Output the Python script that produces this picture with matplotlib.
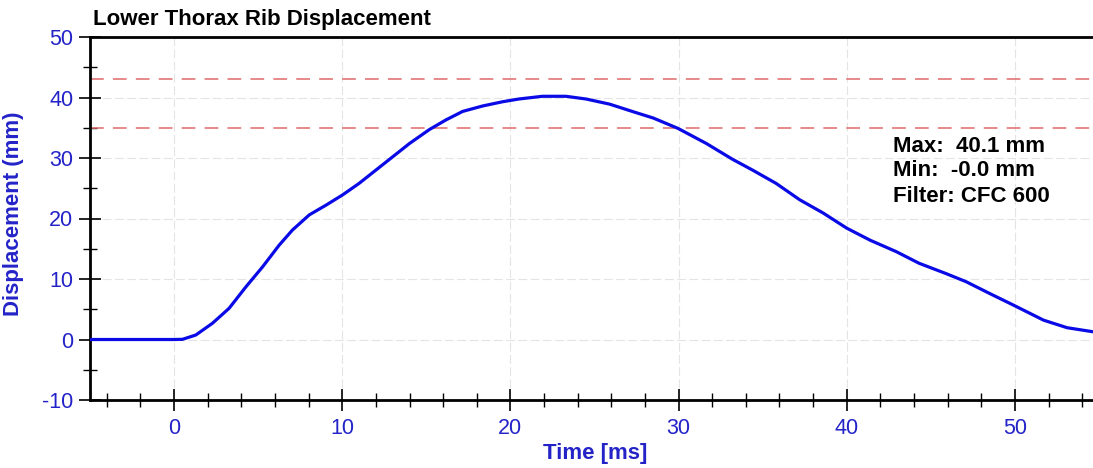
import matplotlib.pyplot as plt
from matplotlib.ticker import MultipleLocator

plt.rcParams['font.family'] = ['Liberation Sans', 'DejaVu Sans']
plt.rcParams['axes.unicode_minus'] = False

# time [ms] and lower thorax rib displacement [mm]
time_ms = [-5, -2, 0, 0.5, 1.29, 2.28, 3.27, 4.27, 5.26, 6.25, 7.04, 8.04, 9.03,
           10.02, 11.0, 12.0, 13.0, 14.0, 15.18, 16.17, 17.16, 18.35, 19.54, 20.5,
           21.9, 23.3, 24.5, 25.9, 27.3, 28.5, 29.96, 31.65, 33.2, 34.4, 35.8, 37.2,
           38.6, 40.0, 41.4, 42.96, 44.3, 45.9, 47.1, 48.5, 49.9, 51.7, 53.1, 54.6, 55.0]
disp_mm = [0, 0, 0, 0.03, 0.74, 2.68, 5.15, 8.7, 12.0, 15.6, 18.1, 20.6, 22.2,
           23.9, 25.8, 28.0, 30.2, 32.4, 34.7, 36.3, 37.7, 38.6, 39.3, 39.75,
           40.2, 40.2, 39.75, 38.9, 37.65, 36.6, 34.9, 32.4, 29.8, 28.0, 25.8, 23.1,
           20.9, 18.4, 16.4, 14.5, 12.6, 10.9, 9.55, 7.6, 5.7, 3.2, 1.95, 1.3, 1.2]

limit_lines = [35, 43]
stats_text = ["Max:  40.1 mm", "Min:  -0.0 mm", "Filter: CFC 600"]

blue_txt = '#2323c8'

fig = plt.figure(figsize=(10.93, 4.68), dpi=100)
# right edge of the axes runs slightly past the image border
ax = fig.add_axes([90 / 1093, (468 - 400) / 468, (1099 - 90) / 1093, (400 - 37) / 468])

ax.plot(time_ms, disp_mm, color='#0a0ae6', lw=2.3, zorder=3)
for v in limit_lines:
    ax.axhline(v, color='#e06a6a', lw=1.1, dashes=(9, 6), zorder=2)

ax.set_xlim(-5, 55)
ax.set_ylim(-10, 50)
ax.xaxis.set_major_locator(MultipleLocator(10))
ax.xaxis.set_minor_locator(MultipleLocator(2))
ax.yaxis.set_major_locator(MultipleLocator(10))
ax.yaxis.set_minor_locator(MultipleLocator(5))

ax.grid(True, which='major', color='#e4e4e4', lw=0.8, ls=(0, (8, 3)), zorder=0)

for side in ['left', 'bottom', 'top']:
    ax.spines[side].set_linewidth(2)
    ax.spines[side].set_color('black')
ax.spines['right'].set_visible(False)

ax.tick_params(which='major', direction='inout', length=16, width=1.2, colors='black',
               labelcolor=blue_txt, labelsize=15.5)
ax.tick_params(which='minor', direction='inout', length=10, width=1.0, colors='black')
ax.tick_params(axis='x', which='major', pad=5)
ax.tick_params(axis='y', which='major', pad=4)

ax.set_xlabel('Time [ms]', color=blue_txt, fontsize=16, fontweight='bold')
ax.xaxis.set_label_coords((595 - 90) / (1099 - 90), -(443 - 400) / 363)
ax.set_ylabel('Displacement (mm)', color=blue_txt, fontsize=16, fontweight='bold')
ax.yaxis.set_label_coords(-(90 - 24) / (1099 - 90), (400 - 214) / 363)
fig.text(93 / 1093, 1 - 19 / 468, 'Lower Thorax Rib Displacement', fontsize=16,
         fontweight='bold', ha='left', va='center')

for i, s in enumerate(stats_text):
    ax.text((893 - 90) / (1099 - 90), (400 - 146 - 25 * i) / 363, s,
            transform=ax.transAxes, fontsize=16, fontweight='bold', ha='left', va='center')

fig.savefig('out.png', dpi=100)
